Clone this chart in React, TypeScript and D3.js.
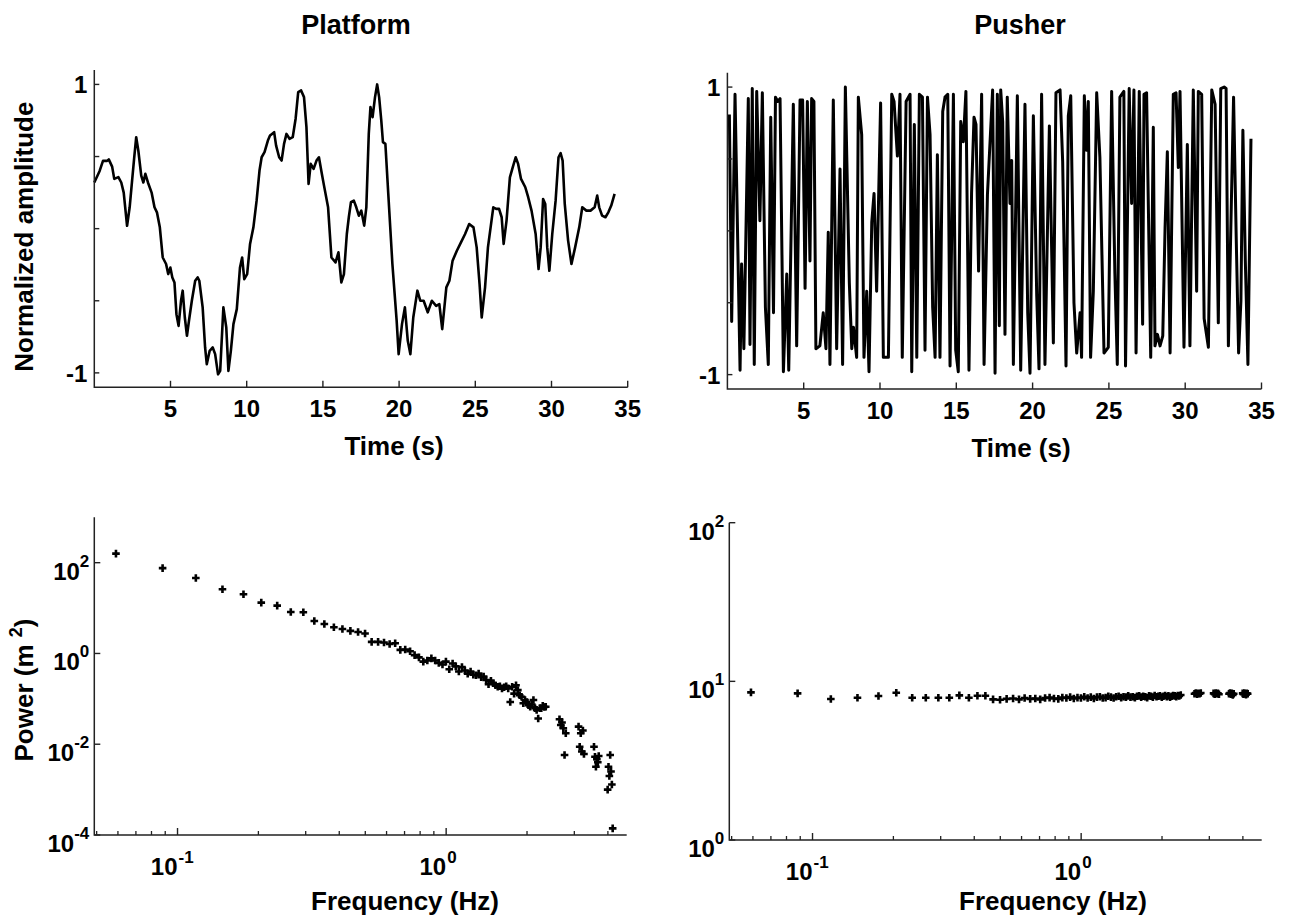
import React, { useEffect, useRef } from "react";
import * as d3 from "d3";

const width = 1291;
const height = 916;
const font = "'Liberation Sans', Arial, Helvetica, sans-serif";

// [time (s), normalized amplitude]
const platformSignal: [number, number][] = [
  [0, 0.32], [0.35, 0.4], [0.57, 0.47], [0.84, 0.47], [0.95, 0.48], [1.17, 0.43], [1.31, 0.345],
  [1.58, 0.357], [1.77, 0.32], [1.93, 0.25], [2.15, 0.02], [2.32, 0.148], [2.48, 0.333], [2.62, 0.495],
  [2.75, 0.634], [2.89, 0.54], [3.08, 0.368], [3.22, 0.32], [3.35, 0.38], [3.52, 0.32], [3.76, 0.25],
  [3.95, 0.148], [4.11, 0.113], [4.3, 0.009], [4.49, -0.2], [4.71, -0.245], [4.85, -0.315], [4.99, -0.27],
  [5.12, -0.338], [5.26, -0.373], [5.39, -0.593], [5.53, -0.674], [5.69, -0.5], [5.8, -0.43], [5.94, -0.616],
  [6.08, -0.743], [6.21, -0.64], [6.4, -0.5], [6.62, -0.361], [6.78, -0.338], [6.89, -0.361], [7.11, -0.546],
  [7.27, -0.824], [7.38, -0.94], [7.57, -0.847], [7.77, -0.824], [7.93, -0.87], [8.12, -1.01], [8.26, -0.986],
  [8.47, -0.546], [8.66, -0.685], [8.8, -0.986], [8.96, -0.847], [9.13, -0.662], [9.35, -0.558], [9.56, -0.269],
  [9.7, -0.2], [9.84, -0.35], [10.03, -0.315], [10.22, -0.106], [10.44, 0.009], [10.65, 0.194], [10.84, 0.403],
  [10.98, 0.495], [11.17, 0.53], [11.39, 0.611], [11.53, 0.646], [11.66, 0.657], [11.8, 0.669], [11.93, 0.576],
  [12.13, 0.495], [12.29, 0.472], [12.45, 0.588], [12.61, 0.657], [12.81, 0.623], [13.02, 0.634], [13.21, 0.762],
  [13.38, 0.947], [13.57, 0.958], [13.76, 0.912], [13.92, 0.704], [14.06, 0.31], [14.2, 0.449], [14.39, 0.414],
  [14.58, 0.472], [14.74, 0.495], [14.93, 0.38], [15.07, 0.3], [15.34, 0.148], [15.56, -0.2], [15.83, -0.234],
  [16.02, -0.164], [16.21, -0.373], [16.38, -0.315], [16.57, -0.037], [16.7, 0.079], [16.84, 0.183], [17.03, 0.194],
  [17.19, 0.148], [17.36, 0.09], [17.52, 0.125], [17.71, 0.021], [17.85, 0.148], [18.01, 0.657], [18.12, 0.843],
  [18.26, 0.773], [18.42, 0.912], [18.56, 1.0], [18.69, 0.912], [18.83, 0.75], [18.94, 0.6], [19.1, 0.588],
  [19.29, 0.241], [19.56, -0.245], [19.84, -0.639], [19.97, -0.87], [20.19, -0.662], [20.38, -0.546], [20.57, -0.778],
  [20.74, -0.87], [20.93, -0.616], [21.2, -0.43], [21.39, -0.5], [21.61, -0.5], [21.88, -0.58], [22.15, -0.5],
  [22.43, -0.535], [22.64, -0.523], [22.83, -0.697], [23.1, -0.407], [23.3, -0.361], [23.51, -0.222], [23.79, -0.153],
  [24.06, -0.095], [24.33, -0.037], [24.6, 0.032], [24.88, 0.009], [25.09, -0.13], [25.28, -0.384], [25.42, -0.616],
  [25.64, -0.407], [25.83, -0.13], [26.02, 0.021], [26.18, 0.148], [26.37, 0.137], [26.56, 0.137], [26.73, 0.079],
  [26.86, -0.106], [27.05, 0.056], [27.27, 0.356], [27.46, 0.426], [27.65, 0.495], [27.81, 0.449], [28.0, 0.345],
  [28.28, 0.287], [28.47, 0.218], [28.69, 0.125], [28.96, -0.037], [29.15, -0.28], [29.29, -0.13], [29.45, 0.206],
  [29.59, 0.171], [29.72, -0.13], [29.86, -0.292], [30.05, -0.037], [30.27, 0.194], [30.46, 0.495], [30.6, 0.523],
  [30.73, 0.472], [30.87, 0.171], [31.09, -0.083], [31.31, -0.245], [31.55, -0.13], [31.82, 0.009], [32.02, 0.148],
  [32.29, 0.125], [32.56, 0.125], [32.83, 0.148], [33.0, 0.229], [33.13, 0.148], [33.32, 0.09], [33.54, 0.079],
  [33.73, 0.113], [33.92, 0.16], [34.14, 0.241],
];

const pusherSignal: [number, number][] = [
  [0.13, 0.81], [0.28, -0.63], [0.5, 0.95], [0.83, -0.97], [0.93, -0.23], [1.08, -0.82], [1.37, 0.92],
  [1.48, -0.79], [1.63, 0.99], [1.76, -0.93], [1.92, 0.97], [2.13, 0.07], [2.29, 0.96], [2.49, -0.53],
  [2.68, -0.93], [2.84, 0.79], [3.02, -0.57], [3.15, 0.93], [3.3, 0.9], [3.45, 0.92], [3.67, -0.98],
  [3.89, -0.3], [4.02, -0.97], [4.32, 0.88], [4.54, -0.8], [4.76, 0.91], [4.93, 0.91], [5.09, -0.4],
  [5.24, 0.9], [5.41, -0.21], [5.52, 0.92], [5.67, 0.9], [5.8, -0.82], [6.06, -0.8], [6.28, -0.57],
  [6.46, -0.82], [6.61, -0.01], [6.72, -0.93], [6.94, 0.91], [7.16, -0.82], [7.38, 0.43], [7.55, -0.93],
  [7.73, 1.0], [7.99, -0.36], [8.15, -0.82], [8.26, -0.67], [8.47, -0.88], [8.58, 0.93], [8.8, 0.67],
  [8.95, -0.88], [9.13, -0.42], [9.28, -0.98], [9.46, 0.06], [9.61, 0.26], [9.78, -0.42], [10.04, 0.89],
  [10.22, -0.88], [10.55, -0.88], [10.77, 0.95], [10.92, 0.9], [11.14, 0.52], [11.31, 0.95], [11.46, -0.88],
  [11.71, 0.9], [11.97, 0.95], [12.08, -0.98], [12.25, 0.74], [12.41, -0.88], [12.58, 0.95], [12.78, 0.93],
  [12.95, -0.83], [13.11, 0.93], [13.28, 0.67], [13.45, -0.53], [13.61, -0.88], [13.76, 0.53], [13.93, -0.88],
  [14.11, 0.83], [14.26, 0.93], [14.44, 0.95], [14.59, -0.94], [14.81, 0.95], [14.96, -0.83], [15.13, -0.98],
  [15.29, 0.76], [15.46, 0.62], [15.63, 0.97], [15.83, -0.97], [16.0, 0.26], [16.16, 0.79], [16.29, 0.74],
  [16.46, -0.28], [16.66, 0.95], [16.82, -0.93], [17.04, 0.25], [17.38, 0.98], [17.54, -0.99], [17.69, 0.95],
  [17.82, -0.66], [17.91, 0.98], [18.04, 0.76], [18.19, -0.72], [18.34, 0.93], [18.52, 0.19], [18.63, 0.49],
  [18.74, -0.93], [19.0, 0.94], [19.22, -0.97], [19.5, 0.88], [19.68, -0.57], [19.83, -0.99], [20.05, 0.8],
  [20.27, -0.45], [20.42, -0.96], [20.59, 0.95], [20.81, -0.93], [21.1, 0.73], [21.36, -0.78], [21.53, 0.96],
  [21.8, 0.98], [21.97, 0.48], [22.19, -0.94], [22.34, 0.8], [22.5, 0.94], [22.71, -0.5], [22.89, -0.85],
  [23.11, -0.57], [23.21, -0.88], [23.39, 0.94], [23.54, 0.56], [23.65, 0.9], [23.8, -0.88], [23.98, -0.42],
  [24.2, 0.96], [24.41, 0.51], [24.68, -0.85], [24.96, -0.81], [25.18, 0.97], [25.39, -0.29], [25.55, -0.93],
  [25.72, 0.93], [25.98, 0.97], [26.09, -0.94], [26.33, 0.99], [26.49, 0.19], [26.64, 0.98], [26.78, -0.85],
  [26.99, 0.97], [27.21, -0.65], [27.3, 0.95], [27.47, 0.96], [27.74, -0.88], [27.91, 0.72], [28.02, -0.8],
  [28.18, -0.72], [28.35, -0.8], [28.53, -0.73], [28.68, 0.02], [28.83, 0.55], [29.01, -0.85], [29.22, 0.95],
  [29.4, 0.96], [29.55, 0.44], [29.66, 0.97], [29.92, -0.81], [30.14, 0.6], [30.31, -0.8], [30.53, 0.98],
  [30.75, -0.42], [30.86, 0.97], [31.08, 0.95], [31.24, -0.61], [31.52, -0.81], [31.74, 0.98], [31.96, 0.88],
  [32.17, -0.64], [32.33, 0.99], [32.55, 1.0], [32.68, 0.99], [32.83, -0.8], [32.99, 0.02], [33.17, 0.93],
  [33.34, -0.03], [33.5, -0.85], [33.65, -0.49], [33.78, 0.7], [33.94, -0.21], [34.11, -0.93], [34.31, 0.64],
];

// [frequency (Hz), power (m^2)]
const platformSpectrum: [number, number][] = [
  [0.059, 158], [0.088, 76], [0.117, 45.9], [0.147, 25.9], [0.176, 20.1], [0.205, 13.2], [0.235, 11.3],
  [0.264, 8.2], [0.294, 8.1], [0.323, 5.2], [0.352, 4.47], [0.382, 3.79], [0.411, 3.47], [0.44, 3.14],
  [0.47, 2.98], [0.499, 2.75], [0.528, 1.8], [0.558, 1.8], [0.587, 1.75], [0.616, 1.62], [0.646, 1.68],
  [0.675, 1.2], [0.704, 1.22], [0.734, 1.12], [0.763, 0.92], [0.792, 0.82], [0.822, 0.66], [0.851, 0.7],
  [0.881, 0.78], [0.91, 0.7], [0.939, 0.62], [0.969, 0.57], [0.998, 0.66], [1.027, 0.45], [1.057, 0.6],
  [1.086, 0.52], [1.115, 0.4], [1.145, 0.5], [1.174, 0.42], [1.203, 0.36], [1.233, 0.4], [1.262, 0.34],
  [1.291, 0.33], [1.321, 0.36], [1.35, 0.3], [1.379, 0.31], [1.409, 0.26], [1.438, 0.21], [1.468, 0.25],
  [1.497, 0.22], [1.526, 0.2], [1.556, 0.185], [1.585, 0.19], [1.614, 0.17], [1.644, 0.18], [1.673, 0.19],
  [1.702, 0.17], [1.732, 0.085], [1.761, 0.185], [1.79, 0.13], [1.82, 0.2], [1.849, 0.156], [1.878, 0.12],
  [1.908, 0.111], [1.937, 0.08], [1.966, 0.094], [1.996, 0.085], [2.025, 0.072], [2.055, 0.067], [2.084, 0.075],
  [2.113, 0.094], [2.143, 0.062], [2.172, 0.057], [2.201, 0.037], [2.231, 0.062], [2.26, 0.062], [2.289, 0.07],
  [2.319, 0.066], [2.348, 0.067],
  [2.642, 0.0355], [2.671, 0.0266], [2.7, 0.03], [2.73, 0.0225], [2.759, 0.0058], [2.788, 0.0175],
  [3.111, 0.0244], [3.141, 0.0088], [3.17, 0.0175], [3.199, 0.0069], [3.229, 0.02], [3.258, 0.0061],
  [3.551, 0.0088], [3.581, 0.0053], [3.61, 0.0032], [3.639, 0.0047], [3.669, 0.004], [3.698, 0.0055],
  [3.992, 0.001], [4.021, 0.0032], [4.051, 0.002], [4.08, 0.0058], [4.109, 0.0025], [4.139, 0.0013],
  [4.168, 0.00014],
];

const pusherSpectrum: [number, number][] = [
  [0.059, 8.52], [0.088, 8.4], [0.117, 7.74], [0.147, 7.88], [0.176, 8.08], [0.205, 8.47], [0.235, 7.88],
  [0.264, 7.88], [0.294, 7.88], [0.323, 7.88], [0.352, 8.16], [0.382, 7.88], [0.411, 8.12], [0.44, 8.12],
  [0.47, 7.7], [0.499, 7.65], [0.528, 7.75], [0.558, 7.8], [0.587, 7.7], [0.616, 7.85], [0.646, 7.75],
  [0.675, 7.8], [0.704, 7.7], [0.734, 7.85], [0.763, 7.9], [0.792, 7.8], [0.822, 7.75], [0.851, 7.9],
  [0.881, 7.85], [0.91, 7.95], [0.939, 7.8], [0.969, 7.9], [0.998, 7.85], [1.027, 8.0], [1.057, 7.85],
  [1.086, 7.95], [1.115, 7.8], [1.145, 7.95], [1.174, 8.0], [1.203, 7.85], [1.233, 7.9], [1.262, 8.05],
  [1.291, 7.95], [1.321, 7.85], [1.35, 8.0], [1.379, 8.05], [1.409, 7.9], [1.438, 8.0], [1.468, 7.95],
  [1.497, 8.1], [1.526, 7.95], [1.556, 8.0], [1.585, 7.9], [1.614, 8.05], [1.644, 8.1], [1.673, 7.95],
  [1.702, 8.05], [1.732, 8.0], [1.761, 7.9], [1.79, 8.1], [1.82, 8.05], [1.849, 7.95], [1.878, 8.15],
  [1.908, 8.0], [1.937, 8.05], [1.966, 8.1], [1.996, 7.95], [2.025, 8.05], [2.055, 8.15], [2.084, 8.0],
  [2.113, 8.1], [2.143, 7.95], [2.172, 8.05], [2.201, 8.15], [2.231, 8.1], [2.26, 8.0], [2.289, 8.15],
  [2.319, 8.1], [2.348, 8.2],
  [2.642, 8.35], [2.671, 8.45], [2.7, 8.3], [2.73, 8.4], [2.759, 8.35], [2.788, 8.45],
  [3.111, 8.4], [3.141, 8.3], [3.17, 8.45], [3.199, 8.35], [3.229, 8.4], [3.258, 8.3],
  [3.551, 8.35], [3.581, 8.45], [3.61, 8.3], [3.639, 8.4], [3.669, 8.2], [3.698, 8.35],
  [3.992, 8.4], [4.021, 8.3], [4.051, 8.45], [4.08, 8.35], [4.109, 8.25], [4.139, 8.4],
  [4.168, 8.35],
];

const timeTicks = [5, 10, 15, 20, 25, 30, 35];
const ampTicks = [-1, -0.5, 0, 0.5, 1];
const ampLabelTicks = [-1, 1];
const freqMajorTicks = [0.1, 1];
const freqMinorTicks = [0.05, 0.06, 0.07, 0.08, 0.09, 0.2, 0.3, 0.4, 0.5, 0.6, 0.7, 0.8, 0.9, 2, 3, 4];
const platformPowerExps = [-4, -2, 0, 2];
const pusherPowerExps = [0, 1, 2];

type Box = { left: number; right: number; top: number; bottom: number };

const axisColor = "#222";

function axisFrame(g: any, b: Box) {
  g.append("path")
    .attr("d", `M${b.left},${b.top}V${b.bottom}H${b.right}`)
    .attr("fill", "none")
    .attr("stroke", axisColor)
    .attr("stroke-width", 1.5);
}

function timePanel(svg: any, b: Box, signal: [number, number][], lineWidth: number, title: string, titleX: number, xLabelX: number, yLabel?: string) {
  const x = d3.scaleLinear().domain([0, 35]).range([b.left, b.right]);
  const y = d3.scaleLinear().domain([-1.1, 1.1]).range([b.bottom, b.top]);
  const g = svg.append("g");

  const line = d3
    .line<[number, number]>()
    .x((d) => x(d[0]))
    .y((d) => y(d[1]));
  g.append("path")
    .attr("d", line(signal))
    .attr("fill", "none")
    .attr("stroke", "#000")
    .attr("stroke-width", lineWidth)
    .attr("stroke-linejoin", "round");

  axisFrame(g, b);

  g.selectAll("line.xt")
    .data(timeTicks)
    .join("line")
    .attr("x1", (d: number) => x(d))
    .attr("x2", (d: number) => x(d))
    .attr("y1", b.bottom)
    .attr("y2", b.bottom - 6.5)
    .attr("stroke", axisColor)
    .attr("stroke-width", 1.4);
  g.selectAll("line.yt")
    .data(ampTicks)
    .enter()
    .append("line")
    .attr("x1", b.left)
    .attr("x2", b.left + 5)
    .attr("y1", (d: number) => y(d))
    .attr("y2", (d: number) => y(d))
    .attr("stroke", axisColor)
    .attr("stroke-width", 1.4);

  const txt = g.append("g").attr("font-family", font).attr("font-weight", "bold").attr("fill", "#000");
  txt.selectAll("text.xl")
    .data(timeTicks)
    .enter()
    .append("text")
    .attr("x", (d: number) => x(d))
    .attr("y", b.bottom + 30)
    .attr("text-anchor", "middle")
    .attr("font-size", 24)
    .text((d: number) => d);
  txt.selectAll("text.yl")
    .data(ampLabelTicks)
    .enter()
    .append("text")
    .attr("x", b.left - 7)
    .attr("y", (d: number) => y(d) + 9)
    .attr("text-anchor", "end")
    .attr("font-size", 24)
    .text((d: number) => d);

  txt.append("text")
    .attr("x", xLabelX)
    .attr("y", b.bottom + 68)
    .attr("text-anchor", "middle")
    .attr("font-size", 26)
    .text("Time (s)");
  txt.append("text")
    .attr("x", titleX)
    .attr("y", 34)
    .attr("text-anchor", "middle")
    .attr("font-size", 27)
    .text(title);
  if (yLabel) {
    txt.append("text")
      .attr("transform", `translate(33,${(b.top + b.bottom) / 2 + 8}) rotate(-90)`)
      .attr("text-anchor", "middle")
      .attr("font-size", 26)
      .text(yLabel);
  }
}

function spectrumPanel(svg: any, b: Box, spectrum: [number, number][], yDomain: [number, number], exps: number[], xLabelX: number, withYLabel: boolean) {
  const x = d3.scaleLog().domain([0.049, 4.7]).range([b.left, b.right]);
  const y = d3.scaleLog().domain(yDomain).range([b.bottom, b.top]);
  const g = svg.append("g");

  axisFrame(g, b);

  g.selectAll("line.minor")
    .data(freqMinorTicks)
    .enter()
    .append("line")
    .attr("x1", (d: number) => x(d))
    .attr("x2", (d: number) => x(d))
    .attr("y1", b.bottom)
    .attr("y2", b.bottom - 4)
    .attr("stroke", axisColor)
    .attr("stroke-width", 1.3);
  g.selectAll("line.major")
    .data(freqMajorTicks)
    .enter()
    .append("line")
    .attr("x1", (d: number) => x(d))
    .attr("x2", (d: number) => x(d))
    .attr("y1", b.bottom)
    .attr("y2", b.bottom - 7)
    .attr("stroke", axisColor)
    .attr("stroke-width", 1.4);
  g.selectAll("line.yt")
    .data(exps)
    .enter()
    .append("line")
    .attr("x1", b.left)
    .attr("x2", b.left + 6)
    .attr("y1", (d: number) => y(Math.pow(10, d)))
    .attr("y2", (d: number) => y(Math.pow(10, d)))
    .attr("stroke", axisColor)
    .attr("stroke-width", 1.4);

  g.append("g")
    .selectAll("path")
    .data(spectrum)
    .enter()
    .append("path")
    .attr("transform", (d: [number, number]) => `translate(${x(d[0])},${y(d[1])})`)
    .attr("d", "M-3.8,0H3.8M0,-3.8V3.8")
    .attr("stroke", "#000")
    .attr("stroke-width", 2.6)
    .attr("fill", "none");

  const txt = g.append("g").attr("font-family", font).attr("font-weight", "bold").attr("fill", "#000");
  // y tick labels: 10 with superscript exponent
  exps.forEach((e) => {
    const t = txt.append("text")
      .attr("x", b.left - 5)
      .attr("y", y(Math.pow(10, e)) + 17)
      .attr("text-anchor", "end");
    t.append("tspan").attr("font-size", 24).text("10");
    t.append("tspan").attr("font-size", 17).attr("dy", -13).text(String(e));
  });
  // x tick labels
  [-1, 0].forEach((e) => {
    const px = x(Math.pow(10, e));
    txt.append("text")
      .attr("x", px)
      .attr("y", b.bottom + 40)
      .attr("text-anchor", "end")
      .attr("font-size", 24)
      .text("10");
    txt.append("text")
      .attr("x", px + 1)
      .attr("y", b.bottom + 28)
      .attr("text-anchor", "start")
      .attr("font-size", 17)
      .text(String(e));
  });

  txt.append("text")
    .attr("x", xLabelX)
    .attr("y", 910)
    .attr("text-anchor", "middle")
    .attr("font-size", 26)
    .text("Frequency (Hz)");

  if (withYLabel) {
    const t = txt.append("text")
      .attr("transform", `translate(33,690) rotate(-90)`)
      .attr("text-anchor", "middle")
      .attr("font-size", 26);
    t.append("tspan").text("Power (m ");
    t.append("tspan").attr("font-size", 18).attr("dy", -11).text("2");
    t.append("tspan").attr("dy", 11).text(")");
  }
}

const App = () => {
  const ref = useRef<SVGSVGElement | null>(null);

  useEffect(() => {
    if (!ref.current) return;
    const svg = d3.select(ref.current);
    svg.selectAll("*").remove();
    svg.append("rect").attr("width", width).attr("height", height).attr("fill", "#fff");

    timePanel(svg, { left: 94.3, right: 627.7, top: 70, bottom: 387.3 }, platformSignal, 2.6, "Platform", 356, 394, "Normalized amplitude");
    timePanel(svg, { left: 727.4, right: 1261.5, top: 72.7, bottom: 389 }, pusherSignal, 3, "Pusher", 1020, 1021);
    spectrumPanel(svg, { left: 94.3, right: 626.7, top: 517.3, bottom: 835 }, platformSpectrum, [1e-4, 1e3], platformPowerExps, 405, true);
    spectrumPanel(svg, { left: 729.3, right: 1261.7, top: 522.7, bottom: 840 }, pusherSpectrum, [1, 100], pusherPowerExps, 1053, false);
  }, []);

  return (
    <svg
      ref={ref}
      width={width}
      height={height}
      style={{ position: "absolute", left: 0, top: 0, display: "block" }}
    />
  );
};

export default App;
